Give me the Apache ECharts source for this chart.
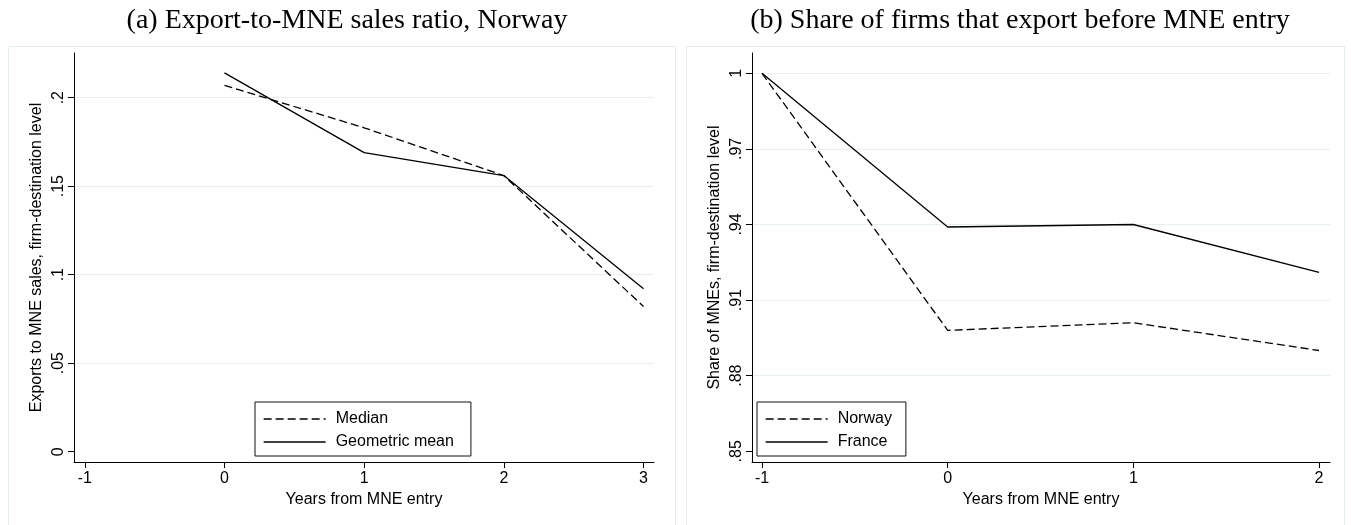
<!DOCTYPE html>
<html><head><meta charset="utf-8">
<script src="https://cdn.jsdelivr.net/npm/echarts@6/dist/echarts.min.js"></script>
<style>html,body{margin:0;padding:0;background:#fff}#c{width:1351px;height:525px}</style>
</head><body><div id="c"></div>
<script>
// ---- data ----
const yearsA = [0, 1, 2, 3];
const medianA = [0.207, 0.183, 0.156, 0.082];
const geoMeanA = [0.214, 0.169, 0.156, 0.092];
const yearsB = [-1, 0, 1, 2];
const norwayB = [1.0, 0.898, 0.901, 0.890];
const franceB = [1.0, 0.939, 0.940, 0.921];
const xTicksA = [-1, 0, 1, 2, 3];
const yTicksA = [0, 0.05, 0.1, 0.15, 0.2];
const xTicksB = [-1, 0, 1, 2];
const yTicksB = [0.85, 0.88, 0.91, 0.94, 0.97, 1];
const titleA = '(a) Export-to-MNE sales ratio, Norway';
const titleB = '(b) Share of firms that export before MNE entry';
const yNameA = 'Exports to MNE sales, firm-destination level';
const yNameB = 'Share of MNEs, firm-destination level';
const xName = 'Years from MNE entry';
const legendA = ['Median', 'Geometric mean'];
const legendB = ['Norway', 'France'];

// ---- style ----
const SANS = 'Liberation Sans';
const SERIF = 'Liberation Serif';
const GRIDC = '#e6eff1';
const fmt = v => (v === 0 ? '0' : String(+v.toFixed(4)).replace(/^(-?)0\./, '$1.'));
const pairs = (xs, ys) => xs.map((x, i) => [x, ys[i]]);
const lineSeries = (name, xi, yi, data, dashed) => ({
  name, type: 'line', xAxisIndex: xi, yAxisIndex: yi, data,
  symbol: 'none', silent: true, animation: false,
  lineStyle: { color: '#000', width: 1.3, type: dashed ? [8, 4] : 'solid' }
});
const xAxisCfg = (gi, min, max, ticks) => ({
  type: 'value', gridIndex: gi, min, max,
  name: xName, nameLocation: 'middle', nameGap: 25,
  nameTextStyle: { fontFamily: SANS, fontSize: 16, color: '#000' },
  axisLine: { show: true, onZero: false, lineStyle: { color: '#000', width: 1 } },
  axisTick: { show: true, length: 6, customValues: ticks, lineStyle: { color: '#000' } },
  axisLabel: { customValues: ticks, margin: 9, fontFamily: SANS, fontSize: 16, color: '#000', formatter: fmt },
  splitLine: { show: false }
});
const yAxisCfg = (gi, min, max, ticks, name) => ({
  type: 'value', gridIndex: gi, min, max,
  name, nameLocation: 'middle', nameGap: 29,
  nameTextStyle: { fontFamily: SANS, fontSize: 16, color: '#000' },
  axisLine: { show: true, onZero: false, lineStyle: { color: '#000', width: 1 } },
  axisTick: { show: true, length: 6, customValues: ticks, lineStyle: { color: '#000' } },
  axisLabel: { customValues: ticks, rotate: 90, margin: 7, fontFamily: SANS, fontSize: 16, color: '#000', formatter: fmt },
  splitLine: { show: true, lineStyle: { width: 1, color: ticks.map((t, i) => i === 0 ? 'rgba(0,0,0,0)' : GRIDC) } }
});
const legendCfg = (names, left, padding) => ({
  data: names, orient: 'vertical', left, top: 402,
  backgroundColor: '#fff', borderColor: '#111', borderWidth: 1, borderRadius: 0,
  padding, itemGap: 7, itemWidth: 62, itemHeight: 16,
  selectedMode: false,
  textStyle: { fontFamily: SANS, fontSize: 16, color: '#000', padding: [0, 0, 0, 5] },
  itemStyle: { color: 'rgba(0,0,0,0)', borderWidth: 0, opacity: 0 },
  lineStyle: { width: 1.3, color: '#000', type: 'inherit' }
});

const chart = echarts.init(document.getElementById('c'), null, { renderer: 'canvas' });
chart.setOption({
  animation: false,
  backgroundColor: '#fff',
  graphic: [
    { type: 'rect', z: -10, shape: { x: 8.5, y: 46.5, width: 667, height: 500 }, style: { fill: '#fff', stroke: '#e3ecee', lineWidth: 1 } },
    { type: 'rect', z: -10, shape: { x: 686.5, y: 46.5, width: 658, height: 500 }, style: { fill: '#fff', stroke: '#e3ecee', lineWidth: 1 } }
  ],
  title: [
    { text: titleA, left: 342, top: 2, textAlign: 'center', textStyle: { fontFamily: SERIF, fontSize: 28, fontWeight: 'normal', color: '#000' } },
    { text: titleB, left: 1015, top: 2, textAlign: 'center', textStyle: { fontFamily: SERIF, fontSize: 28, fontWeight: 'normal', color: '#000' } }
  ],
  legend: [legendCfg(legendA, 255, [9, 17, 6, 8]), legendCfg(legendB, 757, [9, 14, 6, 8])],
  grid: [
    { left: 74, top: 53, width: 580, height: 409, containLabel: false },
    { left: 752, top: 53, width: 578, height: 409, containLabel: false }
  ],
  xAxis: [xAxisCfg(0, -1.0773, 3.075, xTicksA), xAxisCfg(1, -1.0539, 2.0592, xTicksB)],
  yAxis: [yAxisCfg(0, -0.00582, 0.22525, yTicksA, yNameA), yAxisCfg(1, 0.84575, 1.00806, yTicksB, yNameB)],
  series: [
    lineSeries(legendA[0], 0, 0, pairs(yearsA, medianA), true),
    lineSeries(legendA[1], 0, 0, pairs(yearsA, geoMeanA), false),
    lineSeries(legendB[0], 1, 1, pairs(yearsB, norwayB), true),
    lineSeries(legendB[1], 1, 1, pairs(yearsB, franceB), false)
  ]
});
</script></body></html>
